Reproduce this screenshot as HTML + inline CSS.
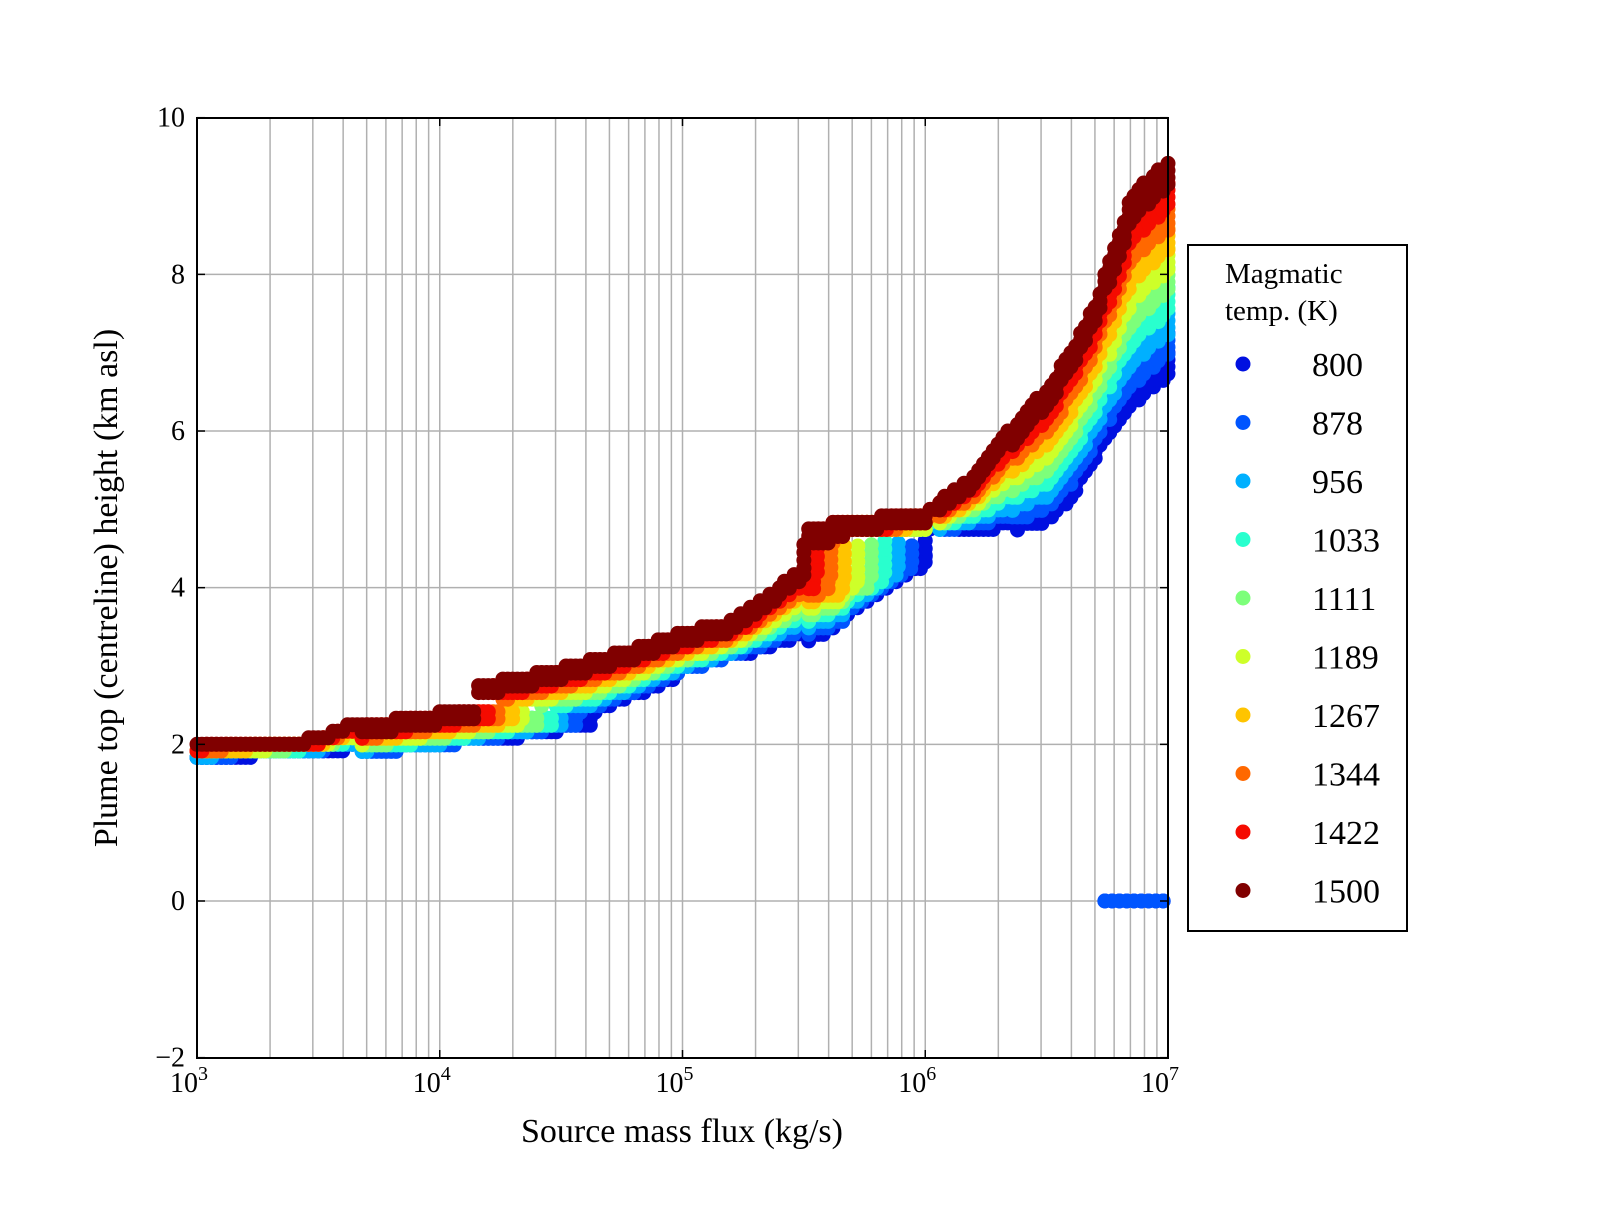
<!DOCTYPE html>
<html><head><meta charset="utf-8"><style>
html,body{margin:0;padding:0;background:#fff;}
svg text{font-family:"Liberation Serif",serif;fill:#000;}
</style></head><body>
<svg id="s" width="1600" height="1200" xmlns="http://www.w3.org/2000/svg">
<rect width="1600" height="1200" fill="#fff"/>
<g id="grid"></g>
<g id="dots"></g>
<rect x="197" y="118" width="971" height="940" fill="none" stroke="#000" stroke-width="2"/>
<g id="ticks" font-size="28"></g>
<text x="682" y="1142" font-size="34" text-anchor="middle">Source mass flux (kg/s)</text>
<text transform="translate(117,588) rotate(-90)" font-size="34" text-anchor="middle">Plume top (centreline) height (km asl)</text>
<rect x="1188" y="245" width="219" height="686" fill="#fff" stroke="#000" stroke-width="2"/>
<text x="1225" y="283" font-size="29">Magmatic</text>
<text x="1225" y="320" font-size="29">temp. (K)</text>
<g id="leg" font-size="34"></g>
</svg>
<script>
(function(){
var NS="http://www.w3.org/2000/svg";
function el(p,t,a,txt){var e=document.createElementNS(NS,t);for(var k in a)e.setAttribute(k,a[k]);if(txt!==undefined)e.textContent=txt;p.appendChild(e);return e;}
var X0=197,DEC=242.75,Y0=901,KM=78.33;
function px(x){return X0+(x-3)*DEC;} function py(h){return Y0-h*KM;}
var grid=document.getElementById('grid'),ticks=document.getElementById('ticks');
for(var d=3;d<7;d++)for(var m=1;m<10;m++){var x=px(d+Math.log10(m));if(m>1||d>3)el(grid,'line',{x1:x,x2:x,y1:118,y2:1058,stroke:'#b0b0b0','stroke-width':1.5});}
for(var h=0;h<=8;h+=2){el(grid,'line',{x1:197,x2:1168,y1:py(h),y2:py(h),stroke:'#b0b0b0','stroke-width':1.5});}
for(var h=-2;h<=10;h+=2){var y=py(h);el(ticks,'text',{x:185,y:y+9,'text-anchor':'end'},(h<0?'\u2212':'')+Math.abs(h));
el(ticks,'line',{x1:197,x2:205,y1:y,y2:y,stroke:'#000','stroke-width':1.5});el(ticks,'line',{x1:1160,x2:1168,y1:y,y2:y,stroke:'#000','stroke-width':1.5});}
for(var d=3;d<=7;d++){var x=px(d);var t=el(ticks,'text',{x:x-8,y:1092,'text-anchor':'middle'},'10');el(t,'tspan',{dy:-12,'font-size':20},String(d));
el(ticks,'line',{x1:x,x2:x,y1:1058,y2:1050,stroke:'#000','stroke-width':1.5});el(ticks,'line',{x1:x,x2:x,y1:118,y2:126,stroke:'#000','stroke-width':1.5});}
function interp(pts,x){if(x<=pts[0][0])return pts[0][1];for(var i=1;i<pts.length;i++){if(x<=pts[i][0]){var a=pts[i-1],b=pts[i];return a[1]+(b[1]-a[1])*(x-a[0])/(b[0]-a[0]);}}return pts[pts.length-1][1];}
var A8=[[3,1.83],[3.5,1.93],[4,2.05],[4.62,2.35]],A15=[[3,1.97],[3.5,2.05],[3.6,2.2],[4.15,2.45],[4.62,2.6]];
var B8=[[4.1,2.25],[4.62,2.5],[5,3.0],[5.3,3.3],[5.5,3.5],[5.65,3.7],[5.8,4.0],[5.9,4.25],[6.0,4.4]];
var B15=[[4.15,2.72],[4.5,2.95],[4.75,3.15],[5,3.4],[5.2,3.55],[5.3,3.75],[5.4,4.0],[5.5,4.25],[6,4.5]];
var C8=[[5.5,4.75],[6,4.78],[6.3,4.88],[6.5,5.05],[6.6,5.35],[6.7,5.85],[6.8,6.45],[6.9,6.75],[7,7.0]];
var C15=[[5.5,4.75],[6.0,4.95],[6.2,5.4],[6.3,5.8],[6.4,6.2],[6.5,6.5],[6.6,7.0],[6.7,7.6],[6.8,8.5],[6.85,9.0],[7,9.4]];
var cols=['#0010e0','#0055ff','#00b0ff','#29ffce','#7dff7a','#ceff29','#ffc400','#ff6800','#f50b00','#800000'];
var labs=['800','878','956','1033','1111','1189','1267','1344','1422','1500'];
var dots=document.getElementById('dots');
function q(h){return Math.round(h*12)/12;}
function Hf(f,x){var xj1=4.15+(1-f)*0.47,xj2=5.5+(1-f)*0.5;
  function H(pa,pb){return interp(pa,x)*(1-f)+interp(pb,x)*f;}
  if(x<xj1)return H(A8,A15);else if(x<xj2)return H(B8,B15);return H(C8,C15);}
for(var i=0;i<10;i++){var f=i/9,c=cols[i];
 var xj2=5.5+(1-f)*0.5;
 for(var x=3;x<=7.001;x+=0.02){
  var h=Hf(f,x);
  var sp=(Hf(1,x)-Hf(0,x))/9;if(sp<0)sp=0;
  var S=sp+0.06; if(i==0)S=sp*1.1+0.04;
  var htop=q(h);
  for(var hh=htop;hh>=htop-S-0.001;hh-=0.09)el(dots,'circle',{cx:px(x).toFixed(1),cy:py(hh).toFixed(1),r:7.5,fill:c});
 }
 var hb=interp(B8,xj2)*(1-f)+interp(B15,xj2)*f;
 for(var hh=hb;hh<=4.6;hh+=0.1)el(dots,'circle',{cx:px(xj2),cy:py(hh),r:7.5,fill:c});
 if(i<=1)for(var x=6.74;x<=7.001;x+=0.03)el(dots,'circle',{cx:px(x),cy:py(0),r:7.5,fill:c});
}
var leg=document.getElementById('leg');
for(var i=0;i<10;i++){var y=364+i*58.5;el(leg,'circle',{cx:1243,cy:y,r:7.5,fill:cols[i]});el(leg,'text',{x:1312,y:y+12},labs[i]);}
})();
</script>
</body></html>
